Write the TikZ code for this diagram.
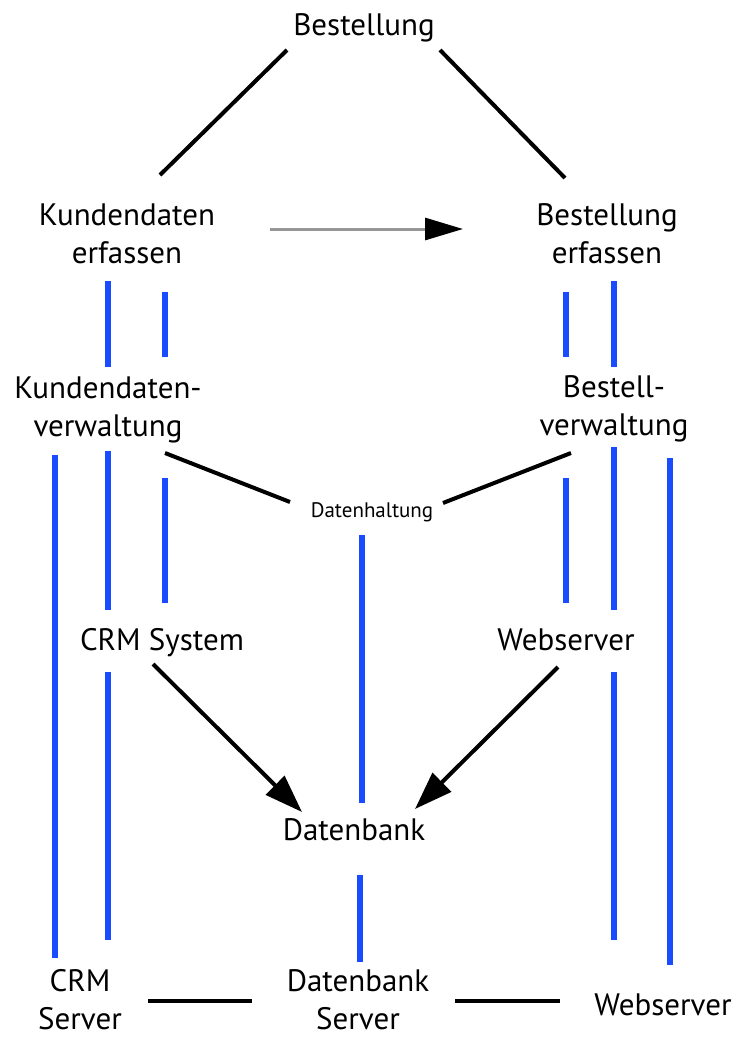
\documentclass[tikz,border=0pt]{standalone}
\usepackage{fontspec}
\setmainfont{PT Sans}
\usetikzlibrary{arrows.meta}
\definecolor{barblue}{RGB}{25,75,255}
\definecolor{flowgray}{RGB}{150,150,150}
\begin{document}
\begin{tikzpicture}[x=1pt,y=-1pt,
  lbl/.style={font=\fontsize{31}{38}\selectfont, inner sep=0pt, align=center, anchor=base},
  smalllbl/.style={font=\fontsize{21}{24}\selectfont, inner sep=0pt, anchor=base},
  link/.style={line width=4pt, black},
  bar/.style={line width=6pt, barblue},
  flow/.style={line width=4pt, black, -{Triangle[length=38pt,width=26pt]}},
  hint/.style={line width=3pt, flowgray, -{Triangle[length=38pt,width=22pt,color=black]}},
  ]
\fill[white] (0,0) rectangle (739,1037);
\useasboundingbox (0,0) rectangle (739,1037);

% labels (two-line labels are placed by the baseline of their last line)
\node[lbl] (bestellung) at (364,35) {Bestellung};
\node[lbl] (kerf) at (127,263) {Kundendaten\\erfassen};
\node[lbl] (berf) at (607,263) {Bestellung\\erfassen};
\node[lbl] (kverw) at (108,436) {Kundendaten-\\verwaltung};
\node[lbl] (bverw) at (614,435) {Bestell-\\verwaltung};
\node[smalllbl] (dath) at (372,517) {Datenhaltung};
\node[lbl] (crm) at (162,650) {CRM System};
\node[lbl] (websys) at (566,650) {Webserver};
\node[lbl] (db) at (354,840) {Datenbank};
\node[lbl] (crmsrv) at (80,1029) {CRM\\Server};
\node[lbl] (dbsrv) at (358,1029) {Datenbank\\Server};
\node[lbl] (websrv) at (663,1015) {Webserver};

% connector end points
\coordinate (a1) at (287,50);   \coordinate (a2) at (160,175);
\coordinate (a3) at (440,50);   \coordinate (a4) at (565,178);
\coordinate (g1) at (270,229);  \coordinate (g2) at (463,229);
\coordinate (d1) at (165,453);  \coordinate (d2) at (290,502);
\coordinate (d3) at (571,453);  \coordinate (d4) at (443,503);
\coordinate (c1) at (153,664);  \coordinate (c2) at (302,812);
\coordinate (w1) at (558,667);  \coordinate (w2) at (415,809);
\coordinate (s1) at (148,1001); \coordinate (s2) at (252,1001);
\coordinate (s3) at (455,1001); \coordinate (s4) at (560,1001);

% decomposition and links
\draw[link] (a1) -- (a2);
\draw[link] (a3) -- (a4);
\draw[hint] (g1) -- (g2);
\draw[link] (d1) -- (d2);
\draw[link] (d3) -- (d4);
\draw[flow] (c1) -- (c2);
\draw[flow] (w1) -- (w2);
\draw[link] (s1) -- (s2);
\draw[link] (s3) -- (s4);

% vertical mapping bars
\foreach \x/\ya/\yb in {108/281/367, 165/292/357, 566/292/357, 614/281/367,
    55/455/958, 108/451/610, 108/672/940, 165/478/603,
    566/478/603, 614/447/610, 614/672/940, 670/458/965,
    362/535/803, 360/875/962}
  \draw[bar] (\x,\ya) -- (\x,\yb);
\end{tikzpicture}
\end{document}
